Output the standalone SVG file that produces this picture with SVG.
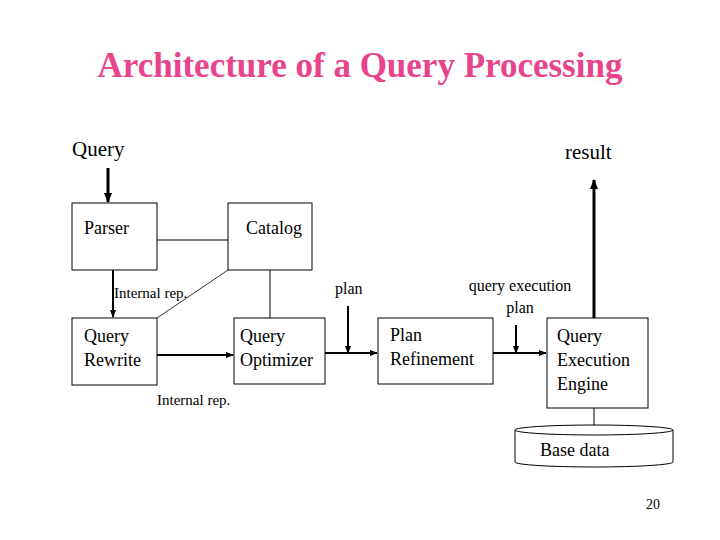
<svg xmlns="http://www.w3.org/2000/svg" width="720" height="540" viewBox="0 0 720 540" font-family="'Liberation Serif', 'DejaVu Serif', serif">
<style>
text{font-family:'Liberation Serif','DejaVu Serif',serif;fill:#000}
.b{fill:#fff;stroke:#000;stroke-width:1}
.t{font-size:18px}
.s{font-size:15px}
.l{stroke:#000;fill:none}
</style>
<defs>
<marker id="a" markerWidth="8" markerHeight="8" refX="7" refY="4" orient="auto" markerUnits="userSpaceOnUse"><path d="M0,1 L8,4 L0,7z" fill="#000"/></marker>
<marker id="a2" markerWidth="10" markerHeight="10" refX="9" refY="5" orient="auto" markerUnits="userSpaceOnUse"><path d="M0,1 L10,5 L0,9z" fill="#000"/></marker>
</defs>
<rect width="720" height="540" fill="#fff"/>
<text x="360" y="77" text-anchor="middle" font-weight="bold" style="font-size:35px;fill:#e8448c">Architecture of a Query Processing</text>
<text x="72" y="156" style="font-size:21px">Query</text>
<text x="565" y="159" style="font-size:21px">result</text>
<g id="connectors">
<line class="l" x1="108" y1="168" x2="108" y2="202" stroke-width="3" marker-end="url(#a2)"/>
<line class="l" x1="594" y1="318" x2="594" y2="180" stroke-width="3" marker-end="url(#a2)"/>
<line class="l" x1="157" y1="240" x2="228" y2="240"/>
<line class="l" x1="113" y1="270" x2="113" y2="317" stroke-width="2" marker-end="url(#a)"/>
<line class="l" x1="228" y1="270" x2="157" y2="318" stroke-width="0.8"/>
<line class="l" x1="270" y1="270" x2="270" y2="318"/>
<line class="l" x1="157" y1="355" x2="233" y2="355" stroke-width="2" marker-end="url(#a)"/>
<line class="l" x1="325" y1="353" x2="377" y2="353" stroke-width="2" marker-end="url(#a)"/>
<line class="l" x1="348" y1="306" x2="348" y2="353" stroke-width="2" marker-end="url(#a)"/>
<line class="l" x1="493" y1="353" x2="546" y2="353" stroke-width="2" marker-end="url(#a)"/>
<line class="l" x1="516" y1="325" x2="516" y2="353" stroke-width="2" marker-end="url(#a)"/>
<line class="l" x1="594" y1="408" x2="594" y2="425"/>
</g>
<g id="parser"><rect class="b" x="72" y="203" width="85" height="67"/><text x="84" y="234" class="t">Parser</text></g>
<g id="catalog"><rect class="b" x="228" y="203" width="84" height="67"/><text x="246" y="234" class="t">Catalog</text></g>
<g id="rewrite"><rect class="b" x="72" y="318" width="85" height="67"/><text x="84" y="342" class="t">Query</text><text x="84" y="366" class="t">Rewrite</text></g>
<g id="optimizer"><rect class="b" x="234" y="318" width="91" height="66"/><text x="240" y="342" class="t">Query</text><text x="240" y="366" class="t">Optimizer</text></g>
<g id="refinement"><rect class="b" x="378" y="318" width="115" height="66"/><text x="390" y="341" class="t">Plan</text><text x="390" y="365" class="t">Refinement</text></g>
<g id="engine"><rect class="b" x="547" y="318" width="101" height="90"/><text x="557" y="342" class="t">Query</text><text x="557" y="366" class="t">Execution</text><text x="557" y="390" class="t">Engine</text></g>
<g id="basedata"><path class="b" d="M515,430 L515,462 A79,5 0 0 0 673,462 L673,430 A79,5 0 0 0 515,430 A79,5 0 0 0 673,430"/><text x="540" y="456" class="t">Base data</text></g>
<text x="114" y="298" class="s">Internal rep.</text>
<text x="157" y="405" class="s">Internal rep.</text>
<text x="335" y="294" style="font-size:16px">plan</text>
<text x="520" y="291" text-anchor="middle" style="font-size:16px">query execution</text>
<text x="520" y="313" text-anchor="middle" style="font-size:16px">plan</text>
<text x="646" y="509" style="font-size:14px">20</text>
</svg>
